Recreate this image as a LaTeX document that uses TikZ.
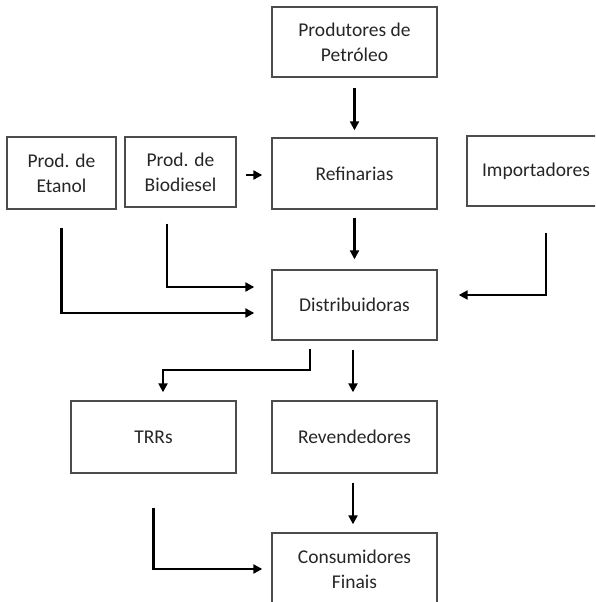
\documentclass[tikz,border=0pt]{standalone}
\usepackage{fontspec}
\setmainfont{Carlito}
\usetikzlibrary{arrows.meta,calc}
\begin{document}
\begin{tikzpicture}[x=1pt,y=-1pt,
  box/.style={draw=black!70,line width=1.4pt,rectangle,inner sep=0pt,align=center,
    font=\fontsize{19.5pt}{25pt}\selectfont,text=black!85},
  arr/.style={line width=2.2pt,-{Triangle[width=9pt,length=9pt]}}]
\useasboundingbox (0,0) rectangle (595,602);
\begin{scope}
\clip (0,0) rectangle (595,602);
\node[box,minimum width=165pt,minimum height=70pt] (petro) at (354.5,42) {Produtores de\\Petróleo};
\node[box,minimum width=165pt,minimum height=71pt] (refin) at (354.5,173.5) {Refinarias};
\node[box,minimum width=109pt,minimum height=72pt] (etanol) at (61.5,173) {Prod. de\\Etanol};
\node[box,minimum width=111pt,minimum height=70pt] (biod) at (180.5,172) {Prod. de\\Biodiesel};
\node[box,minimum width=138pt,minimum height=70pt] (import) at (536,171) {Importadores};
\node[box,minimum width=165pt,minimum height=70pt] (dist) at (354.5,305) {Distribuidoras};
\node[box,minimum width=165pt,minimum height=72pt] (trrs) at (153.5,437) {TRRs};
\node[box,minimum width=165pt,minimum height=72pt] (reven) at (354.5,437) {Revendedores};
\node[box,minimum width=165pt,minimum height=72pt] (cons) at (354.5,569) {Consumidores\\Finais};
\end{scope}
\draw[arr] ([yshift=-10pt]petro.south) -- ([yshift=7pt]refin.north);
\draw[arr] ([yshift=-8pt]refin.south) -- ([yshift=10pt]dist.north);
\draw[arr] ([xshift=9pt,yshift=-3pt]biod.east) -- ([xshift=-9pt,yshift=-1.5pt]refin.west);
\draw[arr] ([xshift=-13.5pt,yshift=-16pt]biod.south) |- ([xshift=-17pt,yshift=18pt]dist.west);
\draw[arr] ([yshift=-18pt]etanol.south) |- ([xshift=-17pt,yshift=-8pt]dist.west);
\draw[arr] ([xshift=10pt,yshift=-26pt]import.south) |- ([xshift=21pt,yshift=10pt]dist.east);
\draw[arr] ([xshift=-44.5pt,yshift=-8pt]dist.south) -- ++(0pt,-21pt) -| ([xshift=9.5pt,yshift=8pt]trrs.north);
\draw[arr] ([xshift=-1.5pt,yshift=-9pt]dist.south) -- ([xshift=-1.5pt,yshift=8pt]reven.north);
\draw[arr] ([xshift=-1.5pt,yshift=-9pt]reven.south) -- ([xshift=-1.5pt,yshift=8pt]cons.north);
\draw[arr] ([yshift=-34pt]trrs.south) |- ([xshift=-9pt]cons.west);
\end{tikzpicture}
\end{document}
